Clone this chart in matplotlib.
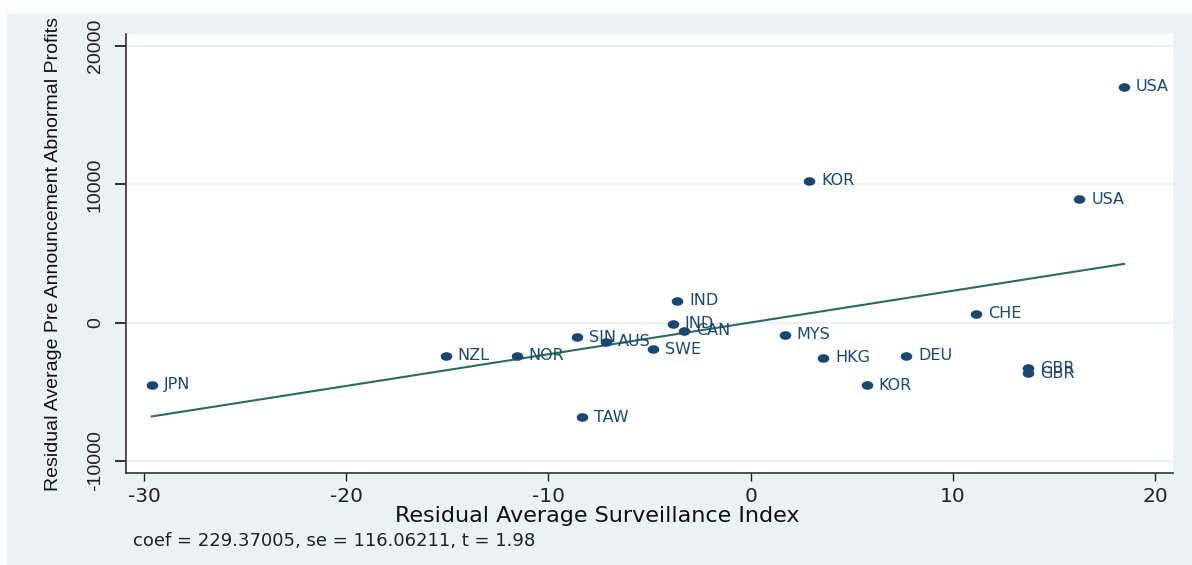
import numpy as np
import matplotlib
matplotlib.use("Agg")
import matplotlib.pyplot as plt
from matplotlib.path import Path
from matplotlib.markers import MarkerStyle
from matplotlib.transforms import Affine2D
from matplotlib.patches import Rectangle

# residuals of the added-variable plot
countries = ["JPN", "NZL", "NOR", "SIN", "AUS", "TAW", "SWE", "IND", "IND", "CAN",
             "MYS", "HKG", "DEU", "KOR", "CHE", "GBR", "GBR", "KOR", "USA", "USA"]
surv_resid = [-29.62, -15.07, -11.57, -8.60, -7.15, -8.35, -4.81, -3.63, -3.85, -3.29,
              1.70, 3.60, 7.69, 5.74, 11.15, 13.73, 13.73, 2.90, 18.47, 16.26]
profit_resid = [-4500, -2386, -2386, -1055, -1374, -6839, -1923, 1590, -94, -578,
                -889, -2530, -2407, -4525, 629, -3296, -3658, 10244, 17061, 8921]

coef = 229.37005
se = 116.06211
t_stat = 1.98

x_ticks = [-30, -20, -10, 0, 10, 20]
y_ticks = [-10000, 0, 10000, 20000]

navy = "#1a476f"
bluish = "#eaf2f3"
fit_col = "#2b6a5c"

fig = plt.figure(figsize=(11.92, 5.65), dpi=100, facecolor="white")
fig.patches.append(Rectangle((7 / 1192, 0), 1, 1 - 14 / 565, transform=fig.transFigure,
                             facecolor=bluish, edgecolor="none", zorder=-10))
ax = fig.add_axes([126 / 1192, 1 - 473 / 565, 1047 / 1192, 439 / 565])
ax.set_facecolor("white")

ax.set_xlim(-30.89, 20.89)
ax.set_ylim(-10870, 20870)
ax.set_xticks(x_ticks)
ax.set_yticks(y_ticks)
ax.set_xticklabels([str(v) for v in x_ticks], fontsize=14.5, family="DejaVu Sans")
ax.set_yticklabels([str(v) for v in y_ticks], fontsize=14, family="Liberation Sans",
                   rotation=90, va="center")
ax.tick_params(axis="x", length=6, width=1.0, pad=4, colors="#222222")
ax.tick_params(axis="y", length=8, width=1.3, pad=8, colors="#222222")
for s in ["top", "right"]:
    ax.spines[s].set_visible(False)
for s in ["left", "bottom"]:
    ax.spines[s].set_color("#333333")
    ax.spines[s].set_linewidth(1.2)

for v in y_ticks:
    ax.axhline(v, color=bluish, lw=1.6, zorder=0)

# fitted line over the data range
xs = np.array(surv_resid)
ys = np.array(profit_resid)
intercept = ys.mean() - coef * xs.mean()
xl = np.array([xs.min(), xs.max()])
ax.plot(xl, intercept + coef * xl, color=fit_col, lw=1.5, zorder=2)

dot = MarkerStyle(Path.unit_circle().transformed(Affine2D().scale(1.35, 1.0)))
ax.scatter(xs, ys, marker=dot, s=70, color=navy, linewidths=0, zorder=3)
for name, x, y in zip(countries, surv_resid, profit_resid):
    ax.annotate(name, (x, y), xytext=(8.5, 0), textcoords="offset points",
                va="center", ha="left", fontsize=11.5, color=navy,
                family="DejaVu Sans", zorder=4)

fig.text(54 / 1192, 1 - 254 / 565, "Residual Average Pre Announcement Abnormal Profits",
         rotation=90, ha="center", va="center", fontsize=14, family="Liberation Sans",
         color="#111111")
fig.text(597 / 1192, 1 - 522 / 565, "Residual Average Surveillance Index",
         ha="center", va="baseline", fontsize=16, family="DejaVu Sans", color="#111111")
fig.text(133 / 1192, 1 - 546 / 565,
         f"coef = {coef:.5f}, se = {se:.5f}, t = {t_stat:.2f}",
         ha="left", va="baseline", fontsize=13, family="DejaVu Sans", color="#222222")

fig.savefig("out.png", dpi=100, facecolor=fig.get_facecolor())
